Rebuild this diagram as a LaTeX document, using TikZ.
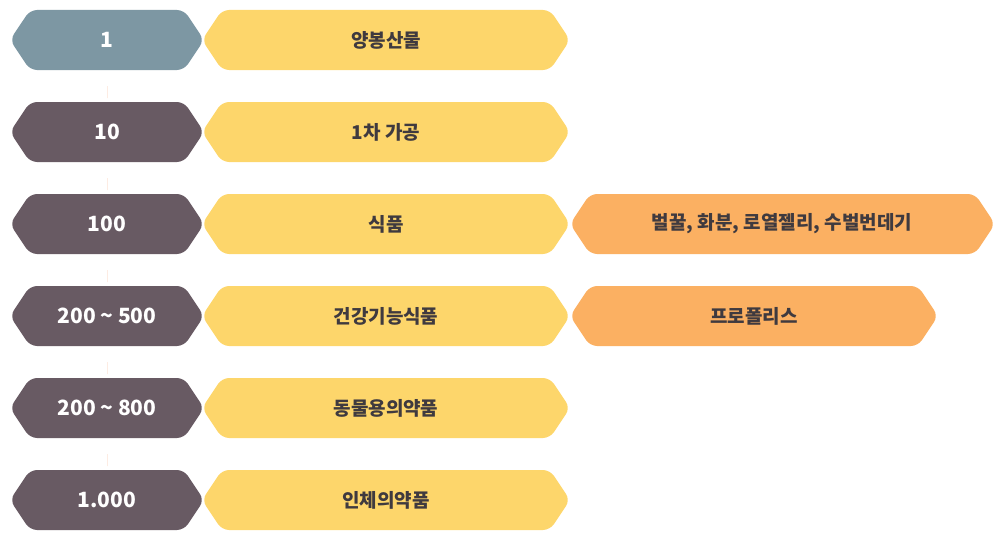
\documentclass[tikz,border=0pt]{standalone}
\usepackage{fontspec}
\usetikzlibrary{shapes.geometric}
\setmainfont{Noto Sans CJK KR}
\definecolor{cblue}{HTML}{7D97A3}
\definecolor{cpurp}{HTML}{685A63}
\definecolor{cyel}{HTML}{FDD66B}
\definecolor{cora}{HTML}{FBB062}
\definecolor{ctri}{HTML}{F26B21}
\definecolor{ctxt}{HTML}{3F3A3F}
\newcommand\hexbox[4]{\fill[#4,rounded corners=7pt] (#1,-#3) -- (#1+20,-#3+30) -- (#2-20,-#3+30) -- (#2,-#3) -- (#2-20,-#3-30) -- (#1+20,-#3-30) -- cycle;}
\begin{document}
\begin{tikzpicture}[x=1pt,y=1pt,
  wt/.style={text=white,font=\bfseries\fontsize{21}{24}\selectfont},
  dt/.style={text=ctxt,font=\bfseries\fontsize{19}{22}\selectfont},
  tri/.style={fill=ctri,isosceles triangle,isosceles triangle apex angle=70,shape border rotate=-90,inner sep=0pt,minimum height=12pt,minimum width=0pt}]
\useasboundingbox (0,0) rectangle (1000,-543);
\hexbox{10}{204}{40}{cblue}
\foreach \y in {132,224,316,408,500} {\hexbox{10}{204}{\y}{cpurp}}
\foreach \y in {40,132,224,316,408,500} {\hexbox{202}{570}{\y}{cyel}}
\hexbox{570}{995}{224}{cora}
\hexbox{570}{938}{316}{cora}
\node[wt] (l1) at (107,-40) {1};
\node[wt] (l2) at (107,-132) {10};
\node[wt] (l3) at (107,-224) {100};
\node[wt] (l4) at (107,-316) {200 \textasciitilde{} 500};
\node[wt] (l5) at (107,-408) {200 \textasciitilde{} 800};
\node[wt] (l6) at (107,-500) {1.000};
\node[dt] (y1) at (386,-40) {양봉산물};
\node[dt] (y2) at (386,-132) {1차 가공};
\node[dt] (y3) at (386,-224) {식품};
\node[dt] (y4) at (386,-316) {건강기능식품};
\node[dt] (y5) at (386,-408) {동물용의약품};
\node[dt] (y6) at (386,-500) {인체의약품};
\node[dt] (o1) at (782,-224) {벌꿀, 화분, 로열젤리, 수벌번데기};
\node[dt] (o2) at (754,-316) {프로폴리스};
\foreach \y in {86,178,270,362,454} {\node[tri] at (107,-\y) {};}
\end{tikzpicture}
\end{document}
